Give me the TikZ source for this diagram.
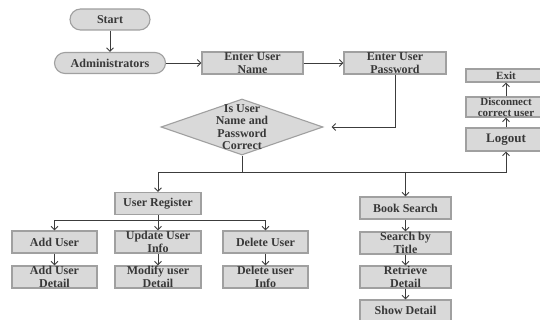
\documentclass[tikz,border=0pt]{standalone}
\usepackage{fontspec}
\setmainfont{Liberation Serif}
\usetikzlibrary{shapes.geometric,arrows.meta}
\definecolor{boxfill}{HTML}{D9D9D9}
\definecolor{boxline}{HTML}{A0A0A0}
\definecolor{ink}{HTML}{383838}
\definecolor{wire}{HTML}{3C3C3C}
\begin{document}
\begin{tikzpicture}[x=1pt,y=-1pt,
  base/.style={draw=boxline, fill=boxfill, line width=1.1pt, text=ink,
    font=\bfseries\fontsize{12}{12.5}\selectfont, align=center, inner sep=0pt},
  proc/.style={base, rectangle, minimum height=22pt},
  term/.style={base, rectangle, rounded corners=10.5pt, minimum height=21pt},
  dia/.style={base, diamond, minimum width=162pt, minimum height=56pt},
  small/.style={font=\bfseries\fontsize{11}{11}\selectfont},
  wireline/.style={draw=wire, line width=0.9pt},
  arr/.style={wireline, -{Straight Barb[length=3.5pt,width=7pt]}}]
\useasboundingbox (0,0) rectangle (540,320);
\fill[white] (0,0) rectangle (540,320);

% login sequence
\node[term, minimum width=80pt]  (start) at (110,19.5) {Start};
\node[term, minimum width=111pt] (admin) at (110,63) {Administrators};
\node[proc, minimum width=101pt] (name)  at (252.5,63) {Enter User\\Name};
\node[proc, minimum width=102pt] (pass)  at (395,63) {Enter User\\Password};
\node[dia] (chk) at (242,127) {};
\node[text=ink, font=\bfseries\fontsize{12}{12.5}\selectfont, align=center]
  (chktext) at (chk.center) {Is User\\Name and\\Password\\Correct};

% logout column
\node[proc, small, minimum width=80pt, minimum height=13pt] (exit) at (506,75.5) {Exit};
\node[proc, small, minimum width=80pt, minimum height=20pt] (disc) at (506,107) {Disconnect\\correct user};
\node[proc, minimum width=80pt, minimum height=23pt,
  font=\bfseries\fontsize{13}{13}\selectfont] (logout) at (506,139.5) {Logout};

% user management branch
\node[proc, minimum width=86pt] (ureg) at (158,203.5) {User Register};
\node[proc, minimum width=85pt] (add)  at (54.5,242) {Add User};
\node[proc, minimum width=86pt] (upd)  at (158,242) {Update User\\Info};
\node[proc, minimum width=85pt] (del)  at (265.5,242) {Delete User};
\node[proc, minimum width=85pt] (addd) at (54.5,277) {Add User\\Detail};
\node[proc, minimum width=86pt] (mod)  at (158,277) {Modify user\\Detail};
\node[proc, minimum width=85pt] (deli) at (265.5,277) {Delete user\\Info};

% book search branch
\node[proc, minimum width=91pt] (bs)  at (405.5,208) {Book Search};
\node[proc, minimum width=91pt] (sbt) at (405.5,243) {Search by\\Title};
\node[proc, minimum width=91pt] (rd)  at (405.5,277) {Retrieve\\Detail};
\node[proc, minimum width=91pt, minimum height=21pt] (sd) at (405.5,310.5) {Show Detail};

\coordinate (bus)  at (0,172);
\coordinate (bus2) at (0,220);

% connectors
\draw[arr] (start) -- (admin);
\draw[arr] (admin) -- (name);
\draw[arr] (name) -- (pass);
\draw[arr, shorten >=8pt] (pass.south) |- (chk.east);

\draw[wireline] (chk.south) -- (chk.south |- bus);
\draw[arr] (chk.south |- bus) -| (ureg.north);
\draw[arr] (chk.south |- bus) -| (logout.south);
\draw[arr] (bs.north |- bus) -- (bs.north);

\draw[arr] (logout) -- (disc);
\draw[arr] (disc) -- (exit);

\draw[wireline] (ureg.south) -- (ureg.south |- bus2);
\draw[arr] (ureg.south |- bus2) -| (add.north);
\draw[arr] (ureg.south |- bus2) -| (del.north);
\draw[arr] (ureg.south |- bus2) -- (upd.north);

\draw[arr] (add) -- (addd);
\draw[arr] (upd) -- (mod);
\draw[arr] (del) -- (deli);

\draw[arr] (bs) -- (sbt);
\draw[arr] (sbt) -- (rd);
\draw[arr] (rd) -- (sd);
\end{tikzpicture}
\end{document}
